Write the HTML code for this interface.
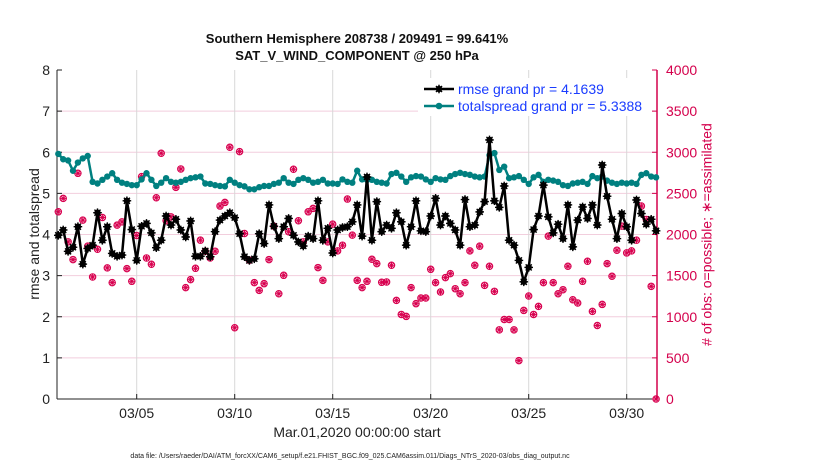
<!DOCTYPE html>
<html><head><meta charset="utf-8"><style>
body{margin:0;background:#fff;width:830px;height:470px;overflow:hidden;font-family:"Liberation Sans",sans-serif}
</style></head><body>
<svg id="chart" width="830" height="470" xmlns="http://www.w3.org/2000/svg" font-family="Liberation Sans, sans-serif"></svg>
<script>
const dayTicks = [5, 10, 15, 20, 25, 30];
const dayTickLabels = ["03/05", "03/10", "03/15", "03/20", "03/25", "03/30"];
const leftTicks = [0,1,2,3,4,5,6,7,8];
const rightTicks = [0,500,1000,1500,2000,2500,3000,3500,4000];
const stepDays = 0.25;
const rmse = [3.98,4.11,3.59,3.69,4.19,3.28,3.66,3.74,4.53,3.86,4.19,3.54,3.47,3.50,4.82,4.12,3.37,4.20,4.27,4.04,3.68,3.86,4.45,4.23,4.37,4.11,3.94,4.33,3.47,3.47,3.60,3.46,4.07,4.35,4.45,4.53,4.41,4.02,3.46,3.37,
3.41,4.02,3.78,4.72,4.20,3.90,4.19,4.39,3.98,3.82,3.72,3.96,3.90,4.82,3.86,4.15,3.55,4.11,4.17,4.19,4.31,4.72,3.96,5.40,3.86,4.80,4.07,4.23,4.15,4.53,4.31,3.74,4.19,4.82,4.09,4.07,4.45,4.88,4.23,4.45,4.27,
4.11,3.74,4.85,4.19,4.23,4.55,4.80,6.30,4.82,4.66,5.18,3.86,3.74,3.37,2.85,3.20,4.12,4.45,5.20,4.43,4.04,4.25,3.90,4.72,3.70,4.35,4.67,4.39,4.72,4.23,5.69,4.93,4.37,3.90,4.51,4.19,3.86,4.84,4.51,4.25,4.37,4.09];
const spread = [5.96,5.83,5.80,5.55,5.75,5.85,5.91,5.28,5.24,5.33,5.41,5.49,5.33,5.26,5.23,5.20,5.20,5.34,5.49,5.33,5.18,5.26,5.37,5.28,5.26,5.28,5.33,5.37,5.39,5.41,5.24,5.23,5.20,5.18,5.17,5.33,5.26,5.20,5.17,5.10,
5.10,5.15,5.18,5.18,5.23,5.26,5.37,5.26,5.23,5.33,5.37,5.33,5.26,5.28,5.33,5.24,5.24,5.23,5.34,5.28,5.26,5.55,5.34,5.33,5.33,5.28,5.26,5.24,5.47,5.50,5.41,5.28,5.39,5.42,5.41,5.34,5.28,5.37,5.34,5.33,5.42,
5.47,5.50,5.47,5.45,5.41,5.39,5.41,5.93,5.98,5.57,5.65,5.37,5.39,5.42,5.33,5.23,5.39,5.45,5.28,5.33,5.31,5.28,5.20,5.18,5.24,5.26,5.28,5.23,5.42,5.37,5.41,5.31,5.26,5.23,5.26,5.24,5.26,5.23,5.45,5.49,5.41,5.39];
const obsCount = [2276,2439,1911,1695,2744,2175,1858,1484,1821,2207,1594,1415,2114,2154,1585,1431,1988,2703,1715,1638,2447,2988,2167,2215,2573,2797,1354,1451,1589,1931,1797,1715,1797,2346,2390,3061,866,3008,2012,1687,
1415,1321,1402,1695,2102,1280,1504,2033,2793,2167,1911,2276,2317,1598,1443,1911,2126,1801,1870,2431,1992,1443,1354,1431,1699,1646,1419,1423,1626,1199,1028,1004,1354,1159,1228,1228,1577,1415,1301,1476,1524,1341,
1280,1415,1801,1626,1858,1382,1614,1309,841,967,967,841,467,1077,1252,1028,1126,1415,1980,1415,1280,1329,1614,1207,1167,1431,1675,1065,894,1150,1646,1492,1809,2102,1776,1801,1931,2346,2183,1370,0];

const svg = document.getElementById('chart');
const NS = 'http://www.w3.org/2000/svg';
const L=57,R=657,T=70,B=399;
const xDay = d => 58.3 + d*19.6;          // d = days since 03/01 00:00
const yL = v => B - v*(B-T)/8;
const yR = v => B - v*(B-T)/4000;
function mk(tag, attrs, parent){const e=document.createElementNS(NS,tag);for(const k in attrs)e.setAttribute(k,attrs[k]);(parent||svg).appendChild(e);return e;}
function txt(s, attrs, parent){const e=mk('text',attrs,parent);e.textContent=s;return e;}

const grid = mk('g',{});


leftTicks.forEach(v=>{ if(v>0&&v<8) mk('line',{x1:L,x2:R,y1:yL(v),y2:yL(v),stroke:'#f2cedd','stroke-width':1},grid); });
dayTicks.forEach(d=>{ mk('line',{x1:xDay(d-1),x2:xDay(d-1),y1:T,y2:B,stroke:'#d8d8d8','stroke-width':1},grid); });

const ax = mk('g',{});


mk('line',{x1:L,x2:L,y1:T,y2:B,stroke:'#222','stroke-width':1},ax);
mk('line',{x1:L,x2:R,y1:B,y2:B,stroke:'#222','stroke-width':1},ax);
mk('line',{x1:R,x2:R,y1:T,y2:B,stroke:'#d4004c','stroke-width':1.5},ax);
leftTicks.forEach(v=>{
  mk('line',{x1:L,x2:L+5,y1:yL(v),y2:yL(v),stroke:'#222'},ax);
  const t=txt(String(v),{x:L-7,y:yL(v)+5,'text-anchor':'end','font-size':14,fill:'#222'},ax);
  
  
});
rightTicks.forEach(v=>{
  mk('line',{x1:R-5,x2:R,y1:yR(v),y2:yR(v),stroke:'#d4004c'},ax);
  const t=txt(String(v),{x:R+9,y:yR(v)+5,'font-size':14,fill:'#d4004c'},ax);
  
  
});
dayTicks.forEach((d,i)=>{
  mk('line',{x1:xDay(d-1),x2:xDay(d-1),y1:B-5,y2:B,stroke:'#222'},ax);
  const t=txt(dayTickLabels[i],{x:xDay(d-1),y:418,'text-anchor':'middle','font-size':14,fill:'#222'},ax);
  
  
});

const og = mk('g',{});


function star(g,x,y,r,c,w){for(let k=0;k<4;k++){const a=k*Math.PI/4;mk('line',{x1:x-r*Math.cos(a),y1:y-r*Math.sin(a),x2:x+r*Math.cos(a),y2:y+r*Math.sin(a),stroke:c,'stroke-width':w},g);}}
obsCount.forEach((v,i)=>{
  const x=xDay(i*stepDays), y=yR(v);
  mk('circle',{cx:x,cy:y,r:3.2,fill:'none',stroke:'#d8004f','stroke-width':1.1},og);
  star(og,x,y,3.4,'#d8004f',1);
});

const sg = mk('g',{});


mk('polyline',{points:spread.map((v,i)=>xDay(i*stepDays)+','+yL(v)).join(' '),fill:'none',stroke:'#008080','stroke-width':2.5},sg);
spread.forEach((v,i)=>mk('circle',{cx:xDay(i*stepDays),cy:yL(v),r:3.2,fill:'#008080'},sg));

const rg = mk('g',{});


mk('polyline',{points:rmse.map((v,i)=>xDay(i*stepDays)+','+yL(v)).join(' '),fill:'none',stroke:'#000','stroke-width':2.5},rg);
rmse.forEach((v,i)=>{const x=xDay(i*stepDays),y=yL(v);mk('circle',{cx:x,cy:y,r:3.2,fill:'#000'},rg);star(rg,x,y,4.3,'#000',1.4);});

const lg = mk('g',{});


mk('rect',{x:418,y:78,width:234,height:38,fill:'#fff'},lg);
mk('line',{x1:424,x2:454,y1:89,y2:89,stroke:'#000','stroke-width':2.5},lg);
mk('circle',{cx:439,cy:89,r:3.2,fill:'#000'},lg); star(lg,439,89,4.3,'#000',1.4);
const l1=txt('rmse grand pr = 4.1639',{x:458,y:94,'font-size':14,fill:'#1a3cff'},lg);


mk('line',{x1:424,x2:454,y1:106,y2:106,stroke:'#008080','stroke-width':2.5},lg);
mk('circle',{cx:439,cy:106,r:3.3,fill:'#008080'},lg);
const l2=txt('totalspread grand pr = 5.3388',{x:458,y:111,'font-size':14,fill:'#1a3cff'},lg);


</script>
<div style="position:absolute;left:0;top:0;width:830px">
<div style="position:absolute;left:157px;width:400px;top:31px;text-align:center;font-weight:bold;font-size:13px;color:#111">Southern Hemisphere 208738 / 209491 = 99.641%</div>
<div style="position:absolute;left:157px;width:400px;top:48px;text-align:center;font-weight:bold;font-size:13px;color:#111">SAT_V_WIND_COMPONENT @ 250 hPa</div>
</div>
<div style="position:absolute;left:157px;width:400px;top:424px;text-align:center;font-size:14px;color:#222">Mar.01,2020 00:00:00 start</div>
<div style="position:absolute;left:0;width:700px;top:453px;text-align:center;font-size:7px;color:#222">data file: /Users/raeder/DAI/ATM_forcXX/CAM6_setup/f.e21.FHIST_BGC.f09_025.CAM6assim.011/Diags_NTrS_2020-03/obs_diag_output.nc</div>
<div style="position:absolute;left:-66px;top:226px;width:200px;text-align:center;font-size:14px;color:#222;transform:rotate(-90deg)">rmse and totalspread</div>
<div style="position:absolute;left:567px;top:226px;width:280px;text-align:center;font-size:14px;color:#d4004c;transform:rotate(-90deg)"># of obs: o=possible; ∗=assimilated</div>
</body></html>
